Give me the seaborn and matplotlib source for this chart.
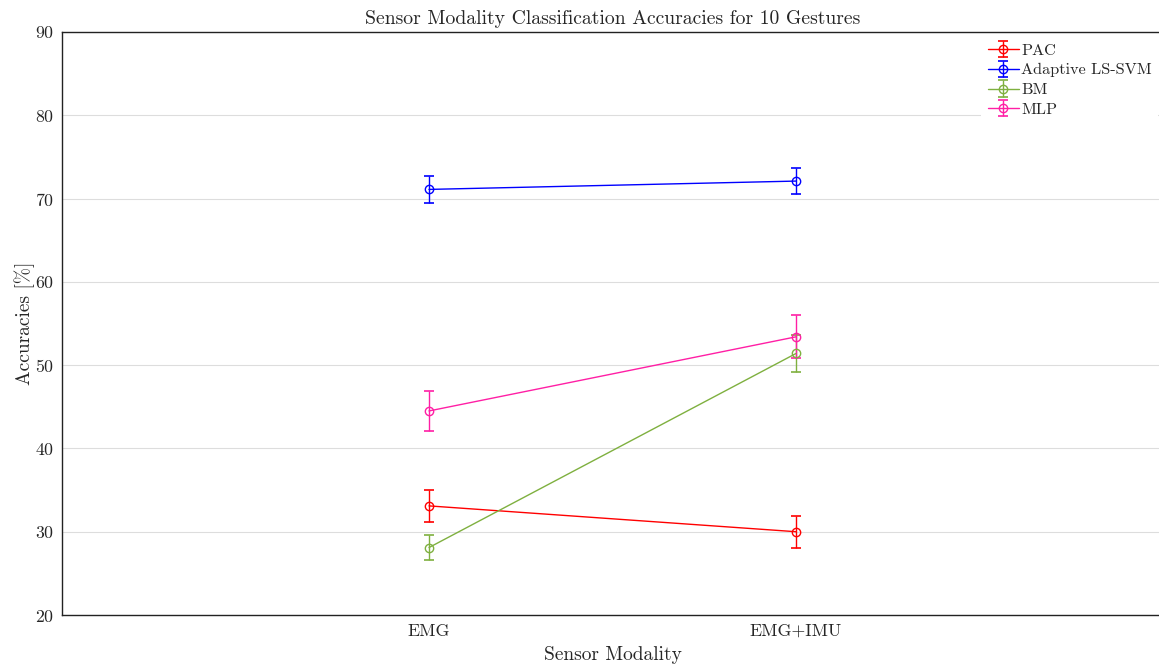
import matplotlib
matplotlib.use("Agg")
import matplotlib.pyplot as plt
import seaborn as sns
import pandas as pd
from matplotlib.legend_handler import HandlerTuple

categories = ["EMG", "EMG+IMU"]
series_names = ["PAC", "Adaptive LS-SVM", "BM", "MLP"]
pac_vals = [33.1, 30.0]
pac_err = [1.9, 1.9]
svm_vals = [71.1, 72.1]
svm_err = [1.6, 1.6]
bm_vals = [28.1, 51.4]
bm_err = [1.5, 2.2]
mlp_vals = [44.5, 53.4]
mlp_err = [2.4, 2.6]
yticks = [20, 30, 40, 50, 60, 70, 80, 90]

colors = {"PAC": "#ff0000", "Adaptive LS-SVM": "#0000ff", "BM": "#7fb03f", "MLP": "#ff1fa5"}

sns.set_style("white")
plt.rcParams["font.family"] = ["cmr10", "DejaVu Serif"]
plt.rcParams["mathtext.fontset"] = "cm"
plt.rcParams["axes.formatter.use_mathtext"] = True

vals = {"PAC": pac_vals, "Adaptive LS-SVM": svm_vals, "BM": bm_vals, "MLP": mlp_vals}
errs = {"PAC": pac_err, "Adaptive LS-SVM": svm_err, "BM": bm_err, "MLP": mlp_err}

rows = []
for s in series_names:
    for c, v, e in zip(categories, vals[s], errs[s]):
        rows.append({"Sensor Modality": c, "Accuracy": v, "err": e, "Method": s})
df = pd.DataFrame(rows)

fig = plt.figure(figsize=(11.59, 6.66), dpi=100)
ax = fig.add_axes([62 / 1159, 51 / 666, (1163 - 62) / 1159, (615 - 32) / 666])

sns.lineplot(data=df, x="Sensor Modality", y="Accuracy", hue="Method",
             hue_order=series_names, palette=colors, marker="o",
             legend=False, ax=ax, sort=False, linewidth=1.0)

lines = ax.get_lines()
for ln in lines:
    c = ln.get_color()
    ln.set_markersize(6)
    ln.set_markerfacecolor("none")
    ln.set_markeredgecolor(c)
    ln.set_markeredgewidth(1.0)
    ln.set_zorder(4)

handles = []
for i, s in enumerate(series_names):
    sub = df[df["Method"] == s]
    eb = ax.errorbar(range(len(categories)), sub["Accuracy"], yerr=sub["err"],
                     fmt="none", ecolor=colors[s], elinewidth=1.0, capsize=3.5,
                     capthick=1.2, zorder=3)
    handles.append((lines[i], eb))

ax.set_xlim(-1, 2)
ax.set_ylim(20, 90)
ax.set_yticks(yticks)
ax.set_xticks(range(len(categories)))
ax.set_xticklabels(categories)
ax.yaxis.grid(True, color="#dddddd", linewidth=0.8)
ax.set_axisbelow(True)
ax.tick_params(axis="both", length=0, labelsize=12.8, pad=6)
for sp in ax.spines.values():
    sp.set_color("#222222")
    sp.set_linewidth(1.0)
ax.spines["right"].set_visible(False)

ax.set_xlabel("Sensor Modality", fontsize=14, labelpad=5)
ax.set_ylabel("Accuracies [%]", fontsize=14, labelpad=0)
ax.set_title("Sensor Modality Classification Accuracies for 10 Gestures", fontsize=14.2, pad=6)

leg = ax.legend(handles, series_names, handler_map={tuple: HandlerTuple(ndivide=1)},
                loc="upper right", bbox_to_anchor=(1.0, 1.0), fontsize=11.7,
                frameon=True, fancybox=False, framealpha=1, edgecolor="none",
                handlelength=1.9, handletextpad=0.15, labelspacing=0.33,
                borderaxespad=0.3, borderpad=0.4)

fig.savefig("out.png", dpi=100)
